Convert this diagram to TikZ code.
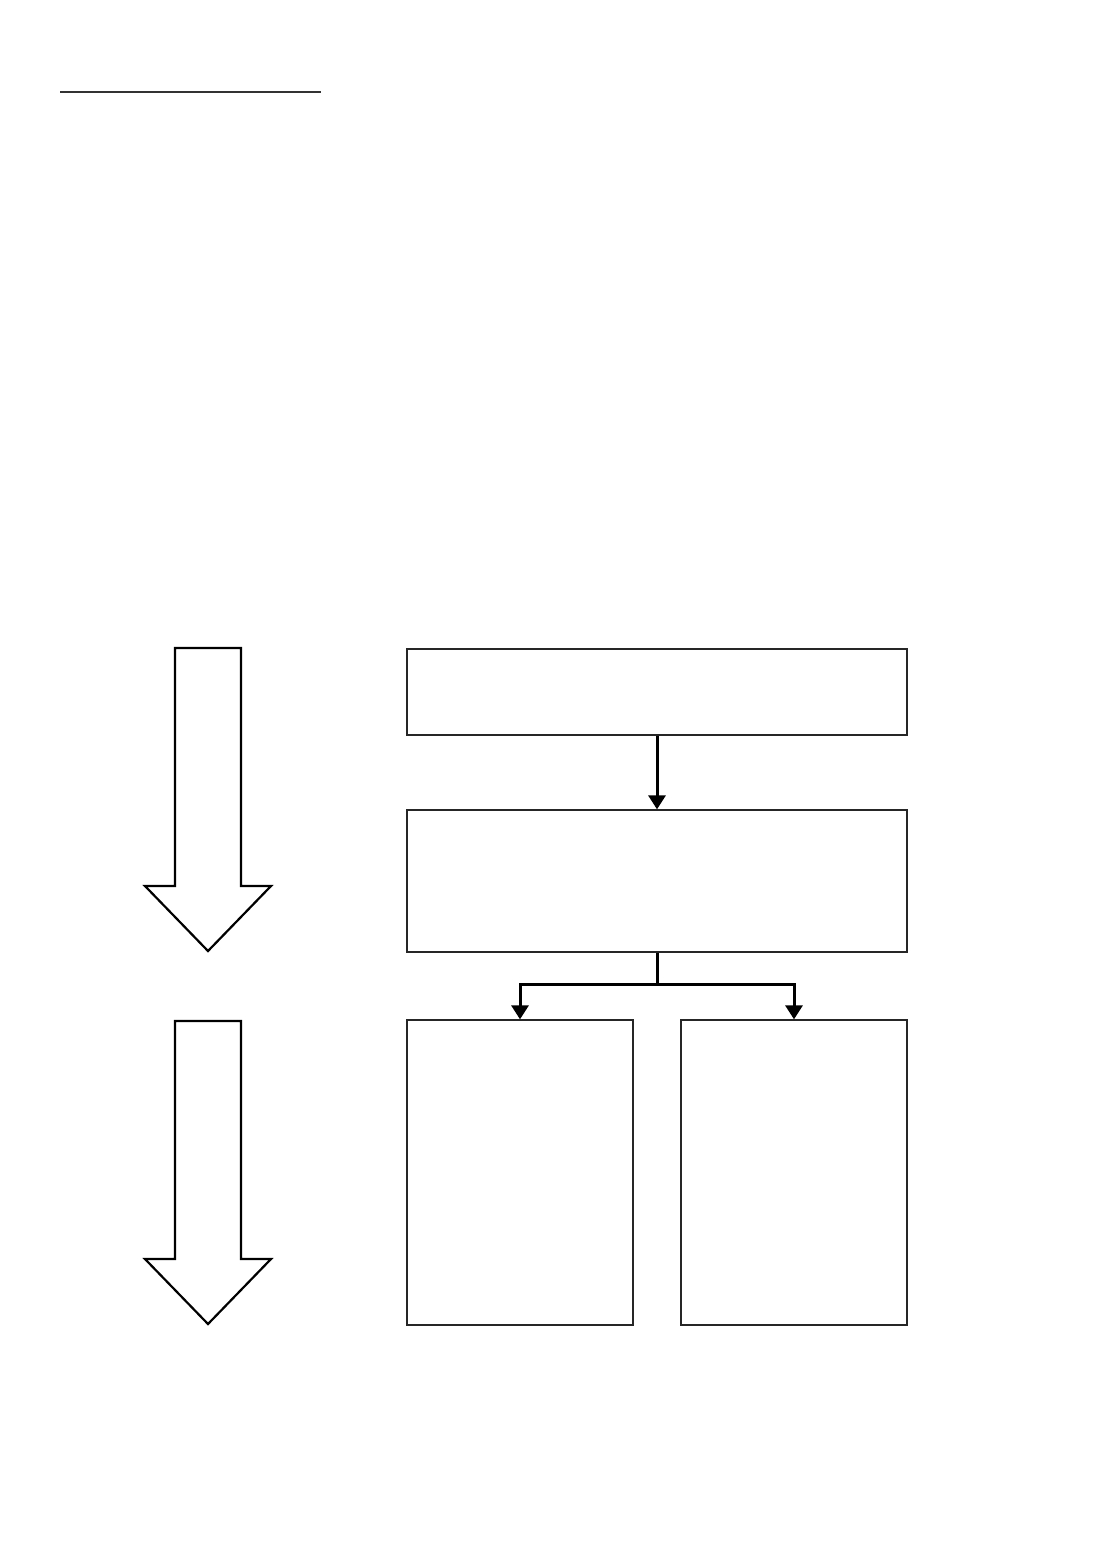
\documentclass[tikz,border=0pt]{standalone}
\usetikzlibrary{arrows.meta, positioning}

\begin{document}
\begin{tikzpicture}[
        x=1pt, y=-1pt,
        box/.style={rectangle, draw=black!85, line width=1.3pt, inner sep=0pt},
        conn/.style={draw, line width=3pt, -{Triangle[width=17pt, length=14pt]}},
        bigarrow/.style={draw, line width=2.2pt, fill=white, line join=miter}
    ]
        \useasboundingbox[fill=white] (0,0) rectangle (1101,1562);

        % Linie oben
        \draw[line width=1.2pt, black!80] (60,92) -- (321,92);

        % Kaestchen
        \node [box, minimum width=500pt, minimum height=86pt] (top) at (657,692) {};
        \node [box, minimum width=500pt, minimum height=142pt] (mid) at (657,881) {};
        \node [box, minimum width=226pt, minimum height=305pt] (left) at (520,1172.5) {};
        \node [box, minimum width=226pt, minimum height=305pt] (right) at (794,1172.5) {};

        % Verbindungen
        \coordinate (split) at (657,984);
        \draw[conn] (top.south) -- (mid.north);
        \draw[conn] (mid.south) -- (split) -| (left.north);
        \draw[conn] (split) -| (right.north);

        % Blockpfeile links
        \foreach \ytop in {648, 1021} {
            \draw[bigarrow] (175,\ytop) -- (241,\ytop) -- (241,\ytop+238) -- (271,\ytop+238)
                -- (208,\ytop+303) -- (145,\ytop+238) -- (175,\ytop+238) -- cycle;
        }
    \end{tikzpicture}
\end{document}
